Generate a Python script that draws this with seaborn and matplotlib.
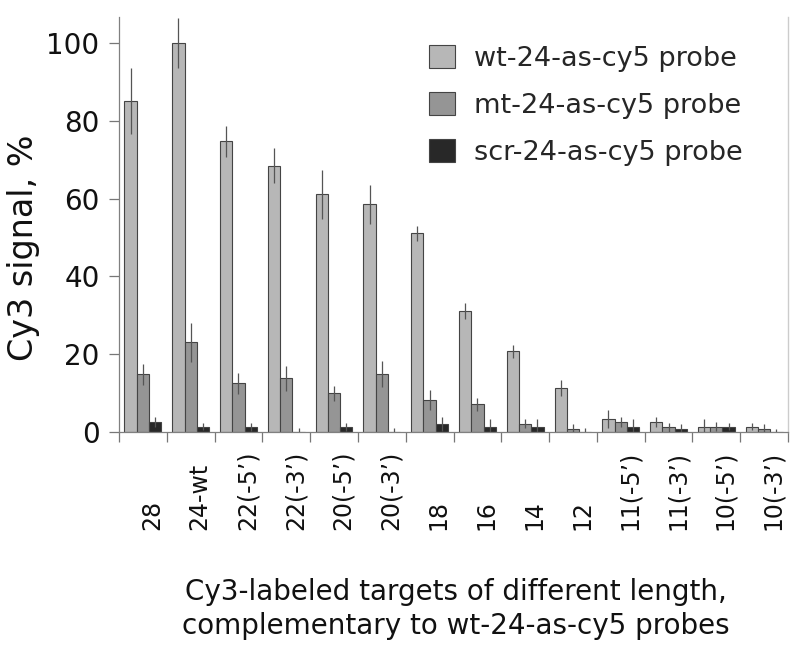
import pandas as pd
import numpy as np
import seaborn as sns
import matplotlib.pyplot as plt
from matplotlib.transforms import ScaledTranslation


# cibles Cy3 (axe x)
targets = ["28", "24-wt", "22(-5\u2019)", "22(-3\u2019)", "20(-5\u2019)", "20(-3\u2019)",
           "18", "16", "14", "12", "11(-5\u2019)", "11(-3\u2019)", "10(-5\u2019)", "10(-3\u2019)"]
probes = ["wt-24-as-cy5 probe", "mt-24-as-cy5 probe", "scr-24-as-cy5 probe"]

# signal Cy3 en %
wt = [85.1, 100, 74.7, 68.5, 61.1, 58.5, 51.1, 31.1, 20.7, 11.3, 3.3, 2.6, 1.4, 1.4]
wt_err = [8.4, 6.5, 3.9, 4.5, 6.3, 5.1, 1.9, 2.1, 1.6, 2.0, 2.4, 1.2, 1.9, 0.8]
mt = [14.9, 23.1, 12.5, 13.8, 9.9, 14.9, 8.2, 7.1, 2.1, 0.8, 2.6, 1.2, 1.4, 0.8]
mt_err = [2.7, 5.0, 2.7, 3.2, 2.0, 3.3, 2.5, 1.7, 1.2, 1.2, 1.2, 1.2, 1.2, 1.2]
scr = [2.6, 1.4, 1.3, 0, 1.3, 0, 2.1, 1.4, 1.4, 0, 1.4, 0.8, 1.4, 0]
scr_err = [1.3, 1.0, 1.0, 1.0, 1.0, 1.0, 1.8, 1.9, 1.9, 1.0, 1.9, 1.2, 0.8, 0.8]

colors = ["#b7b7b7", "#959595", "#282828"]

df = pd.DataFrame({
    "target": targets * 3,
    "signal": wt + mt + scr,
    "probe": [p for p in probes for _ in targets],
})
errs = [wt_err, mt_err, scr_err]

sns.set_style("white")
plt.rcParams["font.family"] = ["DejaVu Sans"]

fig = plt.figure(figsize=(7.99, 6.62), dpi=100)
ax = fig.add_axes([119 / 799, 1 - 432 / 662, 669 / 799, 415 / 662])

sns.barplot(data=df, x="target", y="signal", hue="probe", palette=colors,
            errorbar=None, width=0.77, saturation=1, edgecolor="#444444",
            linewidth=0.8, ax=ax)

# barres d'erreur sans chapeau
for cont, e in zip(ax.containers, errs):
    xs = [p.get_x() + p.get_width() / 2 for p in cont]
    hs = [p.get_height() for p in cont]
    ax.errorbar(xs, hs, yerr=e, fmt="none", ecolor="#555555", elinewidth=0.9,
                capsize=0, zorder=3)

ax.set_xlim(-0.5, len(targets) - 0.5)
ax.set_ylim(0, 106.7)
ax.set_yticks([0, 20, 40, 60, 80, 100])
ax.tick_params(axis="y", labelsize=20, length=7, width=0.9, color="#777777",
               pad=7, left=True, labelcolor="#111111")

ax.set_xticks(range(len(targets)))
ax.set_xticklabels(targets, rotation=90, va="bottom", ha="center")
ax.set_xticks(np.arange(-0.5, len(targets)), minor=True)
ax.tick_params(axis="x", which="major", length=0, pad=70.5, labelsize=17,
               labelcolor="#111111")
ax.tick_params(axis="x", which="minor", length=7, width=0.9, color="#777777",
               bottom=True)
off = ScaledTranslation(9 / 100, 0, fig.dpi_scale_trans)
for lab in ax.get_xticklabels():
    lab.set_transform(lab.get_transform() + off)

for s in ["left", "bottom"]:
    ax.spines[s].set_color("#808080")
    ax.spines[s].set_linewidth(0.9)
ax.spines["right"].set_color("#cccccc")
ax.spines["right"].set_linewidth(1.0)
ax.spines["top"].set_visible(False)

ax.set_xlabel("")
ax.set_ylabel("")
fig.text(24 / 799, 1 - 248 / 662, "Cy3 signal, %", rotation=90, ha="center",
         va="center", fontsize=24, color="#111111")
fig.text(456 / 799, 1 - 609 / 662,
         "Cy3-labeled targets of different length,\ncomplementary to wt-24-as-cy5 probes",
         ha="center", va="center", fontsize=20, linespacing=1.25, color="#111111")

ax.legend(loc="upper left", bbox_to_anchor=(429 / 799, 1 - 45 / 662),
          bbox_transform=fig.transFigure, frameon=False, fontsize=19.5,
          borderaxespad=0, borderpad=0, handlelength=0.95, handleheight=0.95,
          handletextpad=0.72, labelspacing=0.74)

fig.savefig("out.png", dpi=100)
